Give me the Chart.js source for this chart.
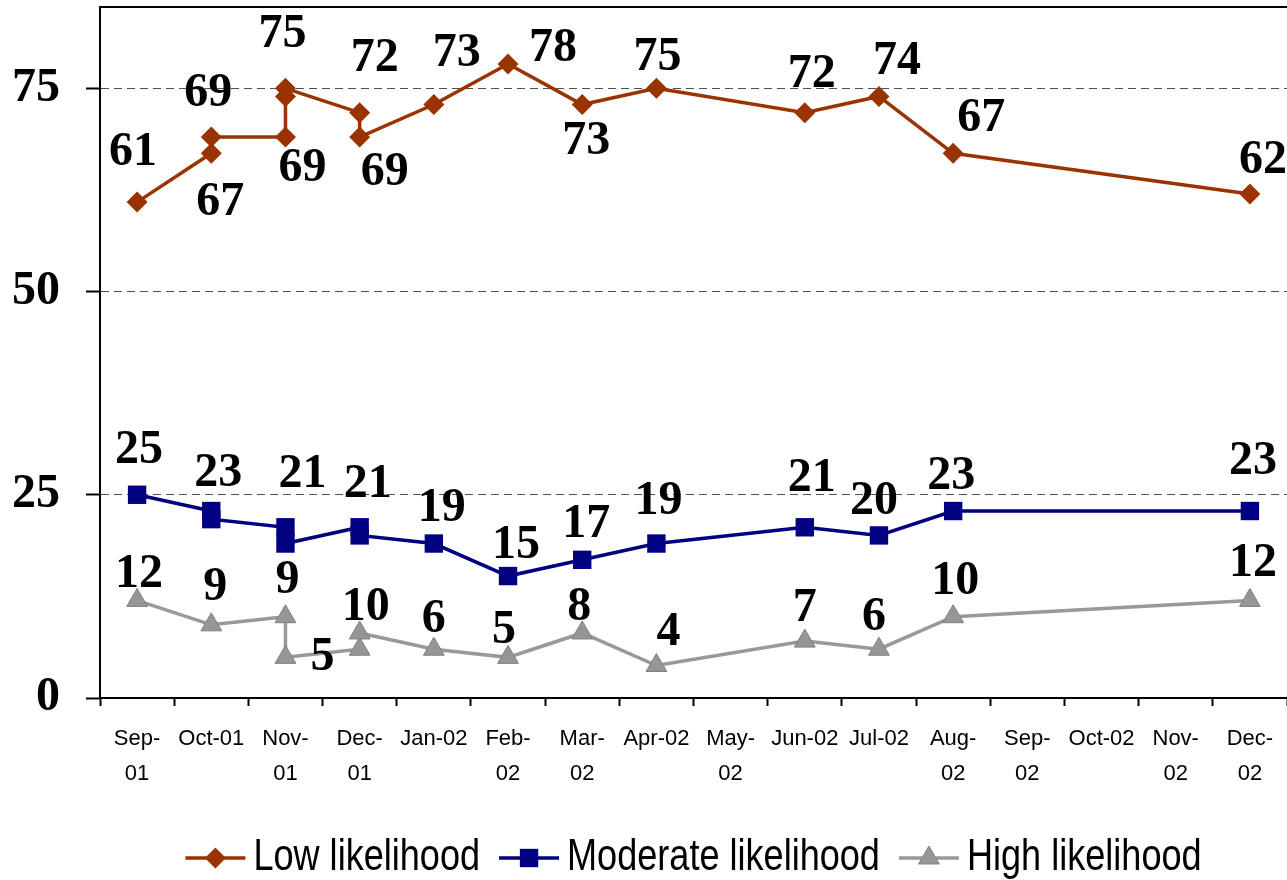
<!DOCTYPE html>
<html>
<head>
<meta charset="utf-8">
<script src="https://cdn.jsdelivr.net/npm/chart.js@4.4.0/dist/chart.umd.min.js"></script>
<style>
    html, body { margin: 0; padding: 0; background: #fff; }
    canvas { display: block; }
</style>
</head>
<body>
<canvas id="chart" width="1287" height="880"></canvas>
<script>
// month categories on the x axis (tick labels, wrapped like the original)
const months = [["Sep-", "01"], "Oct-01", ["Nov-", "01"], ["Dec-", "01"], "Jan-02", ["Feb-", "02"],
    ["Mar-", "02"], "Apr-02", ["May-", "02"], "Jun-02", "Jul-02", ["Aug-", "02"], ["Sep-", "02"],
    "Oct-02", ["Nov-", "02"], ["Dec-", "02"]];
const yTicks = [0, 25, 50, 75];

// each survey: month index + value, some months had more than one
const lowMonth = [0, 1, 1, 2, 2, 2, 3, 3, 4, 5, 6, 7, 9, 10, 11, 15];
const lowValues = [61, 67, 69, 69, 74, 75, 72, 69, 73, 78, 73, 75, 72, 74, 67, 62];
const lowLabels = ["61", "67", "69", "69", "", "75", "72", "69", "73", "78", "73", "75", "72", "74", "67", "62"];

const modMonth = [0, 1, 1, 2, 2, 3, 3, 4, 5, 6, 7, 9, 10, 11, 15];
const modValues = [25, 23, 22, 21, 19, 21, 20, 19, 15, 17, 19, 21, 20, 23, 23];
const modLabels = ["25", "23", "", "21", "", "21", "", "19", "15", "17", "19", "21", "20", "23", "23"];

const highMonth = [0, 1, 2, 2, 3, 3, 4, 5, 6, 7, 9, 10, 11, 15];
const highValues = [12, 9, 10, 5, 6, 8, 6, 5, 8, 4, 7, 6, 10, 12];
const highLabels = ["12", "9", "9", "5", "", "10", "6", "5", "8", "4", "7", "6", "10", "12"];

// where each value label sits relative to its point (px), as placed in the original
const lowLabelOffset = [[-4, -50], [9, 49], [-3, -43], [17, 32], [0, 0], [-3, -54], [15, -54], [25, 36],
    [23, -51], [45, -15], [4, 37], [1, -31], [7, -38], [18, -35], [28, -35], [13, -33]];
const modLabelOffset = [[2, -44], [7, -37], [0, 0], [17, -53], [0, 0], [8, -43], [0, 0], [8, -35],
    [8, -30], [4, -35], [2, -42], [7, -49], [-5, -34], [-2, -34], [3, -49]];
const highLabelOffset = [[2, -26], [4, -37], [2, -36], [37, 0], [0, 0], [6, -25], [0, -30], [-4, -27],
    [-3, -25], [12, -33], [0, -33], [-5, -32], [2, -35], [3, -37]];

const serif = "'Liberation Serif', 'Times New Roman', serif";
const sans = "'Liberation Sans', Arial, sans-serif";

function toPoints(monthIdx, values) {
    return values.map((v, i) => ({ x: monthIdx[i], y: v }));
}

const valueLabels = {
    id: "valueLabels",
    afterDatasetsDraw(chart) {
        const ctx = chart.ctx;
        ctx.save();
        ctx.font = "bold 48px " + serif;
        ctx.fillStyle = "#000";
        ctx.textAlign = "center";
        ctx.textBaseline = "middle";
        chart.data.datasets.forEach((ds, d) => {
            const meta = chart.getDatasetMeta(d);
            meta.data.forEach((pt, i) => {
                const text = ds.labelTexts[i];
                if (!text) return;
                const off = ds.labelOffsets[i];
                ctx.fillText(text, pt.x + off[0], pt.y + off[1]);
            });
        });
        ctx.restore();
    }
};

const frameTop = {
    id: "frameTop",
    afterDraw(chart) {
        const { ctx, chartArea } = chart;
        ctx.save();
        ctx.strokeStyle = "#000";
        ctx.lineWidth = 2;
        ctx.beginPath();
        ctx.moveTo(chartArea.left, chartArea.top);
        ctx.lineTo(chartArea.right, chartArea.top);
        ctx.stroke();
        ctx.restore();
    }
};

// legend in the narrow style of the original: line + marker + condensed text
const bottomLegend = {
    id: "bottomLegend",
    afterDraw(chart) {
        const { ctx, chartArea } = chart;
        const lineLen = 60, textGap = 8, itemGap = 19, y = 858, squeeze = 0.82;
        ctx.save();
        ctx.font = "44px " + sans;
        const widths = chart.data.datasets.map(ds => lineLen + textGap + ctx.measureText(ds.label).width * squeeze);
        const total = widths.reduce((a, b) => a + b, 0) + itemGap * (widths.length - 1);
        let x = (chartArea.left + chartArea.right) / 2 - total / 2;

        chart.data.datasets.forEach((ds, i) => {
            ctx.strokeStyle = ds.borderColor;
            ctx.lineWidth = ds.borderWidth;
            ctx.beginPath();
            ctx.moveTo(x, y);
            ctx.lineTo(x + lineLen, y);
            ctx.stroke();

            ctx.fillStyle = ds.pointBackgroundColor;
            ctx.strokeStyle = ds.pointBorderColor;
            ctx.lineWidth = ds.pointBorderWidth;
            Chart.helpers.drawPoint(ctx, {
                pointStyle: ds.pointStyle,
                radius: ds.pointRadius,
                borderWidth: ds.pointBorderWidth,
                rotation: 0
            }, x + lineLen / 2, y);

            ctx.save();
            ctx.translate(x + lineLen + textGap, y);
            ctx.scale(squeeze, 1);
            ctx.fillStyle = "#000";
            ctx.textAlign = "left";
            ctx.textBaseline = "middle";
            ctx.fillText(ds.label, 0, 0);
            ctx.restore();
            x += widths[i] + itemGap;
        });
        ctx.restore();
    }
};

new Chart(document.getElementById("chart"), {
    type: "line",
    data: {
        datasets: [
            {
                label: "Low likelihood",
                data: toPoints(lowMonth, lowValues),
                labelTexts: lowLabels,
                labelOffsets: lowLabelOffset,
                borderColor: "#993300",
                borderWidth: 3.5,
                pointStyle: "rectRot",
                pointRadius: 10.5,
                pointBackgroundColor: "#993300",
                pointBorderColor: "#993300",
                pointBorderWidth: 0
            },
            {
                label: "Moderate likelihood",
                data: toPoints(modMonth, modValues),
                labelTexts: modLabels,
                labelOffsets: modLabelOffset,
                borderColor: "#000080",
                borderWidth: 3.5,
                pointStyle: "rect",
                pointRadius: 13,
                pointBackgroundColor: "#000080",
                pointBorderColor: "#000080",
                pointBorderWidth: 0
            },
            {
                label: "High likelihood",
                data: toPoints(highMonth, highValues),
                labelTexts: highLabels,
                labelOffsets: highLabelOffset,
                borderColor: "#999999",
                borderWidth: 3.5,
                pointStyle: "triangle",
                pointRadius: 12,
                pointBackgroundColor: "#969696",
                pointBorderColor: "#808080",
                pointBorderWidth: 1
            }
        ]
    },
    options: {
        responsive: false,
        animation: false,
        clip: false,
        layout: { autoPadding: false, padding: { top: 7, right: 0, bottom: 72, left: 0 } },
        elements: { line: { tension: 0 } },
        plugins: {
            legend: { display: false },
            tooltip: { enabled: false }
        },
        scales: {
            x: {
                type: "linear",
                min: -0.5,
                max: months.length - 0.5,
                afterBuildTicks: scale => { scale.ticks = months.map((m, i) => ({ value: i })); },
                afterFit: scale => {
                    scale.height = 110;
                    scale.paddingLeft = 0;
                    scale.paddingRight = 0;
                },
                grid: {
                    offset: true,
                    drawOnChartArea: false,
                    tickLength: 8,
                    tickColor: "#000",
                    tickWidth: 2
                },
                border: { display: true, color: "#000", width: 2 },
                ticks: {
                    autoSkip: false,
                    maxRotation: 0,
                    padding: 15.5,
                    color: "#000",
                    font: { family: sans, size: 22, lineHeight: 35 / 22 },
                    callback: value => months[value]
                }
            },
            y: {
                min: 0,
                max: 85,
                afterBuildTicks: scale => { scale.ticks = yTicks.map(v => ({ value: v })); },
                afterFit: scale => {
                    scale.width = 100;
                    scale.paddingTop = 0;
                    scale.paddingBottom = 0;
                },
                grid: {
                    color: ctx => (ctx.tick && ctx.tick.value === 0 ? "rgba(0,0,0,0)" : "#505050"),
                    lineWidth: 1,
                    tickLength: 14,
                    tickColor: "#000",
                    tickWidth: 2,
                    tickBorderDash: []
                },
                border: { display: true, color: "#000", width: 2, dash: [8, 5] },
                ticks: {
                    padding: 26,
                    color: "#000",
                    font: { family: serif, size: 48, weight: "bold" }
                }
            }
        }
    },
    plugins: [valueLabels, frameTop, bottomLegend]
});
</script>
</body>
</html>
